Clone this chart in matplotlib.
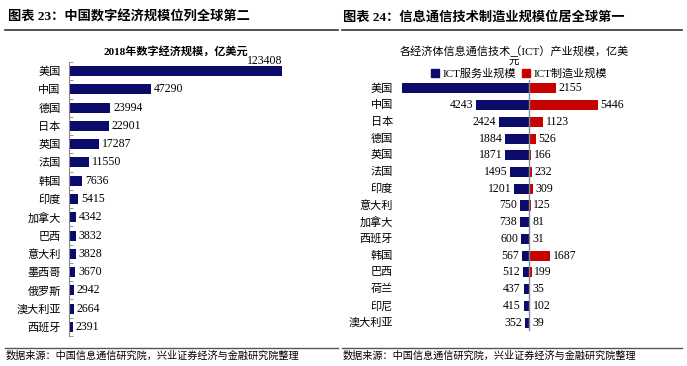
import matplotlib
matplotlib.use('Agg')
import matplotlib.pyplot as plt
from matplotlib.lines import Line2D
from matplotlib.patches import Patch

plt.rcParams['font.family'] = ['Liberation Serif', 'Noto Sans CJK SC']

# left panel: 2018 digital economy size (100M USD)
dig_countries = ['美国', '中国', '德国', '日本', '英国', '法国', '韩国', '印度', '加拿大',
                 '巴西', '意大利', '墨西哥', '俄罗斯', '澳大利亚', '西班牙']
dig_values = [123408, 47290, 23994, 22901, 17287, 11550, 7636, 5415, 4342,
              3832, 3828, 3670, 2942, 2664, 2391]

# right panel: ICT industry size by economy (100M USD)
ict_countries = ['美国', '中国', '日本', '德国', '英国', '法国', '印度', '意大利', '加拿大',
                 '西班牙', '韩国', '巴西', '荷兰', '印尼', '澳大利亚']
ict_service = [10100, 4243, 2424, 1884, 1871, 1495, 1201, 750, 738,
               600, 567, 512, 437, 415, 352]
ict_manuf = [2155, 5446, 1123, 526, 166, 232, 309, 125, 81,
             31, 1687, 199, 35, 102, 39]

NAVY = '#0b0b6b'
RED = '#c80000'
W, H = 687, 366

fig = plt.figure(figsize=(6.87, 3.66), dpi=100)

def fx(px):
    return px / W

def fy(py):
    return 1 - py / H

# headers and rules
fig.text(fx(8), fy(17), '图表 23：中国数字经济规模位列全球第二', fontsize=9.5,
         fontweight='bold', va='center', ha='left')
fig.text(fx(343), fy(17), '图表 24：信息通信技术制造业规模位居全球第一', fontsize=9.5,
         fontweight='bold', va='center', ha='left')
for x0, x1 in [(5, 338), (342, 682)]:
    fig.add_artist(Line2D([fx(x0), fx(x1)], [fy(30), fy(30)], color='#333333', lw=1.2))
    fig.add_artist(Line2D([fx(x0), fx(x1)], [fy(348), fy(348)], color='#555555', lw=1.0))
fig.text(fx(6), fy(356), '数据来源：中国信息通信研究院，兴业证券经济与金融研究院整理',
         fontsize=7.3, va='center', ha='left')
fig.text(fx(343), fy(356), '数据来源：中国信息通信研究院，兴业证券经济与金融研究院整理',
         fontsize=7.3, va='center', ha='left')

# ---- left chart ----
ax1 = fig.add_axes([fx(69), fy(336), fx(300 - 69), fy(62) - fy(336)])
y1 = list(range(len(dig_countries)))
ax1.barh(y1, dig_values, height=0.55, color=NAVY)
ax1.set_xlim(0, 123408 * (300 - 69) / 213)
ax1.set_ylim(len(dig_countries) - 0.5, -0.5)
ax1.set_yticks(y1)
ax1.set_yticklabels(dig_countries, fontsize=8)
ax1.set_yticks([i - 0.5 for i in range(len(dig_countries) + 1)], minor=True)
ax1.tick_params(axis='y', which='major', length=0, pad=6)
ax1.tick_params(axis='y', which='minor', length=3, direction='in', color='#888888')
ax1.set_xticks([])
for s in ['top', 'right', 'bottom']:
    ax1.spines[s].set_visible(False)
ax1.spines['left'].set_color('#888888')
for i, v in enumerate(dig_values):
    if i == 0:
        ax1.annotate(f'{v}', (v, i), xytext=(0, 3), textcoords='offset points',
                     ha='right', va='bottom', fontsize=8.5)
    else:
        ax1.annotate(f'{v}', (v, i), xytext=(2, 0), textcoords='offset points',
                     ha='left', va='center', fontsize=8.5)
fig.text(fx(176), fy(51), '2018年数字经济规模，亿美元', fontsize=8, fontweight='bold',
         ha='center', va='center')

# ---- right chart ----
ax2 = fig.add_axes([fx(395), fy(331), fx(620 - 395), fy(80) - fy(331)])
scale = 79.5
y2 = list(range(len(ict_countries)))
ax2.barh(y2, [-v for v in ict_service], height=0.6, color=NAVY)
ax2.barh(y2, ict_manuf, height=0.6, color=RED)
ax2.set_xlim(-(529 - 395) * scale, (620 - 529) * scale)
ax2.set_ylim(len(ict_countries) - 0.5, -0.5)
ax2.set_xticks([])
ax2.set_yticks([])
for s in ['top', 'right', 'bottom', 'left']:
    ax2.spines[s].set_visible(False)
ax2.axvline(0, color='#888888', lw=1)
for i, (c, sv, mv) in enumerate(zip(ict_countries, ict_service, ict_manuf)):
    ax2.text(-(529 - 393) * scale, i, c, fontsize=8, ha='right', va='center',
             clip_on=False)
    if i > 0:
        ax2.annotate(f'{sv}', (-sv, i), xytext=(-2, 0), textcoords='offset points',
                     ha='right', va='center', fontsize=8.5)
    ax2.annotate(f'{mv}', (mv, i), xytext=(2, 0), textcoords='offset points',
                 ha='left', va='center', fontsize=8.5)
fig.text(fx(514), fy(51), '各经济体信息通信技术（ICT）产业规模，亿美', fontsize=8,
         ha='center', va='center')
fig.text(fx(514), fy(62), '元', fontsize=7.5, ha='center', va='center')
handles = [Patch(color=NAVY, label='ICT服务业规模'), Patch(color=RED, label='ICT制造业规模')]
fig.legend(handles=handles, loc='center', bbox_to_anchor=(fx(519), fy(74)), ncol=2,
           frameon=False, fontsize=8, handlelength=0.7, handleheight=0.7,
           handletextpad=0.3, columnspacing=0.6, borderpad=0)

fig.savefig('out.png', dpi=100, facecolor='white')
